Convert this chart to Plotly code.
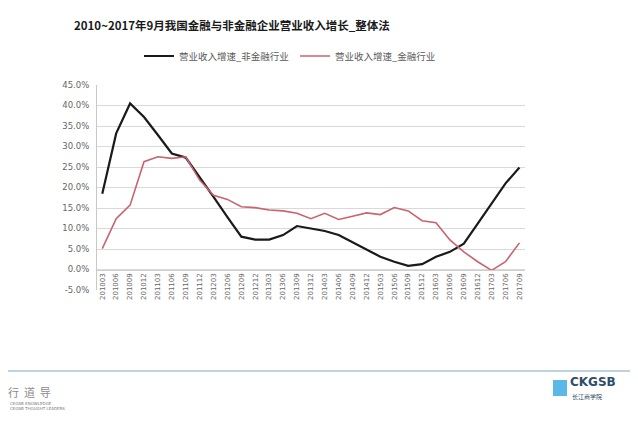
import plotly.graph_objects as go

# ---- data ----
quarters = [f"{y}{m:02d}" for y in range(2010, 2018) for m in (3, 6, 9, 12)][:31]
nonfin_growth = [18.5, 33.2, 40.5, 37.2, 32.8, 28.3, 27.3, 22.6, 17.7, 12.8,
                 8.0, 7.3, 7.3, 8.4, 10.6, 10.0, 9.4, 8.4, 6.7, 4.9,
                 3.1, 1.9, 0.9, 1.3, 3.1, 4.3, 6.3, 11.2, 16.1, 21.0, 24.9]
fin_growth = [5.1, 12.4, 15.7, 26.3, 27.5, 27.1, 27.5, 21.8, 18.1, 17.1,
              15.3, 15.1, 14.5, 14.3, 13.7, 12.4, 13.7, 12.2, 13.0, 13.8,
              13.4, 15.1, 14.3, 11.9, 11.4, 7.2, 4.3, 1.9, -0.2, 1.9, 6.5]
y_ticks = [-5, 0, 5, 10, 15, 20, 25, 30, 35, 40, 45]
series_names = ["营业收入增速_非金融行业", "营业收入增速_金融行业"]
title_text = "2010~2017年9月我国金融与非金融企业营业收入增长_整体法"

CJK = "Noto Sans CJK SC"

# page offset (browser body margin) compensation
OFF = 8
W, H = 638, 425
# plot area in screenshot pixels
L, R, T, B = 97, 525, 85, 290
Lf, Rf, Tf, Bf = L - OFF, R - OFF, T - OFF, B - OFF

def px(x):
    return (x - L) / (R - L)
def py(y):
    return (B - y) / (B - T)

fig = go.Figure()
fig.add_trace(go.Scatter(x=quarters, y=nonfin_growth, mode="lines",
                         name=series_names[0],
                         line=dict(color="#1a1a1a", width=2.2)))
fig.add_trace(go.Scatter(x=quarters, y=fin_growth, mode="lines",
                         name=series_names[1],
                         line=dict(color="#c9636f", width=1.6)))

fig.update_layout(
    width=W, height=H,
    margin=dict(l=Lf, r=W - Rf, t=Tf, b=H - Bf, pad=0, autoexpand=False),
    paper_bgcolor="white", plot_bgcolor="white",
    font=dict(family=CJK, color="#595959"),
    showlegend=True,
    legend=dict(orientation="h", x=px(139), y=py(56), xanchor="left", yanchor="middle",
                font=dict(size=9.5, family=CJK, color="#595959"),
                itemwidth=30, entrywidth=111, entrywidthmode="pixels",
                bgcolor="rgba(0,0,0,0)", traceorder="normal"),
    xaxis=dict(type="category", range=[-0.38, 30.4], tickangle=-90,
               showgrid=False, showline=True, linecolor="#d0d0d0", linewidth=1,
               ticks="", anchor="free", position=0.1,
               tickfont=dict(size=7, family="DejaVu Sans", color="#666666")),
    yaxis=dict(range=[-5, 45], tickvals=y_ticks,
               ticktext=[f"{v:.1f}%" for v in y_ticks],
               showgrid=True, gridcolor="#d9d9d9", gridwidth=1,
               showline=True, linecolor="#c8c8c8", linewidth=1,
               zeroline=False, ticks="", ticklabelstandoff=5,
               tickfont=dict(size=8.5, family="DejaVu Sans", color="#666666")),
)

annotations = [
    dict(text=f"<b>{title_text}</b>", x=px(72), y=py(25), xref="paper", yref="paper",
         xanchor="left", yanchor="middle", showarrow=False,
         font=dict(size=11.5, family=CJK, color="#1a1a1a")),
    dict(text="<b>CKGSB</b>", x=px(568), y=py(382), xref="paper", yref="paper",
         xanchor="left", yanchor="middle", showarrow=False,
         font=dict(size=12, family="DejaVu Sans", color="#2e4d6b")),
    dict(text="长江商学院", x=px(570), y=py(396), xref="paper", yref="paper",
         xanchor="left", yanchor="middle", showarrow=False,
         font=dict(size=6, family=CJK, color="#2e4d6b")),
    dict(text="行  道  导", x=px(6), y=py(392), xref="paper", yref="paper",
         xanchor="left", yanchor="middle", showarrow=False,
         font=dict(size=11, family=CJK, color="#8a8a8a")),
    dict(text="CKGSB KNOWLEDGE<br>CKGSB THOUGHT LEADERS", x=px(8), y=py(406), xref="paper", yref="paper",
         xanchor="left", yanchor="middle", showarrow=False, align="left",
         font=dict(size=4, family="DejaVu Sans", color="#777777")),
]
fig.update_layout(annotations=annotations)

shapes = [
    dict(type="line", xref="paper", yref="paper", x0=px(5), x1=px(632), y0=py(371), y1=py(371),
         line=dict(color="#a9c3d6", width=1.5)),
    dict(type="rect", xref="paper", yref="paper", x0=px(553), x1=px(567), y0=py(396), y1=py(380),
         fillcolor="#5ab8e6", line=dict(width=0)),
]
fig.update_layout(shapes=shapes)

fig.write_html("out.html")
